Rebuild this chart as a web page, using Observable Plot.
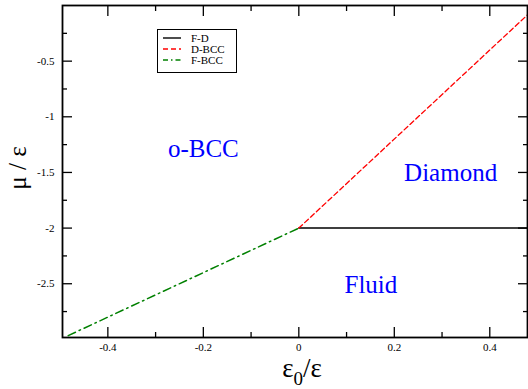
<!DOCTYPE html>
<html><head><meta charset="utf-8">
<script src="https://cdn.jsdelivr.net/npm/d3@7"></script>
<script src="https://cdn.jsdelivr.net/npm/@observablehq/plot@0.6"></script>
<style>
body{margin:0;background:#fff;}
#wrap{position:relative;width:528px;height:389px;}
#legend{position:absolute;left:157px;top:29px;}
</style></head><body><div id="wrap"></div>
<script>
// phase boundary lines
const fdX = [0, 0.48], fdY = [-2, -2];
const dbccX = [0, 0.48], dbccY = [-2, -0.08];
const fbccX = [-0.483, 0], fbccY = [-2.966, -2];
// region annotations
const regionNames = ["o-BCC", "Diamond", "Fluid"];
const regionX = [-0.2, 0.318, 0.151];
const regionY = [-1.29, -1.506, -2.512];
// ticks
const xTicks = [-0.4, -0.2, 0, 0.2, 0.4];
const xTickLabels = ["-0.4", "-0.2", "0", "0.2", "0.4"];
const xMinor = [-0.3, -0.1, 0.1, 0.3];
const yTicks = [-0.5, -1, -1.5, -2, -2.5];
const yTickLabels = ["-0.5", "-1", "-1.5", "-2", "-2.5"];
const yMinor = [-0.25, -0.75, -1.25, -1.75, -2.25, -2.75];
// legend
const legendNames = ["F-D", "D-BCC", "F-BCC"];
const legendColors = ["#000000", "#ff0000", "#008000"];
const legendDash = [null, "5,3", "8,4,1.5,4"];

const lineData = (xs, ys) => xs.map((x, i) => ({x, y: ys[i]}));
const regions = regionNames.map((n, i) => ({n, x: regionX[i], y: regionY[i]}));
const font = "Liberation Serif";

const chart = Plot.plot({
  width: 528, height: 389,
  marginLeft: 62, marginRight: 1, marginTop: 5, marginBottom: 52,
  style: "font-family: 'Liberation Serif'; background: #fff;",
  x: {domain: [-0.495, 0.479]},
  y: {domain: [-2.983, 0]},
  marks: [
    Plot.line(lineData(fdX, fdY), {x: "x", y: "y", stroke: legendColors[0], strokeWidth: 1.5, clip: true}),
    Plot.line(lineData(dbccX, dbccY), {x: "x", y: "y", stroke: legendColors[1], strokeWidth: 1.3, strokeDasharray: legendDash[1], clip: true}),
    Plot.line(lineData(fbccX, fbccY), {x: "x", y: "y", stroke: legendColors[2], strokeWidth: 1.5, strokeDasharray: legendDash[2], clip: true}),
    Plot.text(regions, {x: "x", y: "y", text: "n", fill: "#0000ff", fontSize: 25, fontFamily: font, textAnchor: "middle", lineAnchor: "middle"}),
    // tick labels
    Plot.axisX(xTicks, {anchor: "bottom", tickSize: 0, tickPadding: 6, fontSize: 11, fontFamily: font, fill: "#000", label: null, tickFormat: d => xTickLabels[xTicks.indexOf(d)]}),
    Plot.axisY(yTicks, {anchor: "left", tickSize: 0, tickPadding: 8, fontSize: 11, fontFamily: font, fill: "#000", label: null, tickFormat: d => yTickLabels[yTicks.indexOf(d)]}),
    // inward major ticks on all sides
    Plot.axisX(xTicks, {anchor: "bottom", tickSize: -10, fill: "none", label: null, strokeWidth: 1.3}),
    Plot.axisX(xTicks, {anchor: "top", tickSize: -10, fill: "none", label: null, strokeWidth: 1.3}),
    Plot.axisY(yTicks, {anchor: "left", tickSize: -10, fill: "none", label: null, strokeWidth: 1.3}),
    Plot.axisY(yTicks, {anchor: "right", tickSize: -10, fill: "none", label: null, strokeWidth: 1.3}),
    // inward minor ticks
    Plot.axisX(xMinor, {anchor: "bottom", tickSize: -5, fill: "none", label: null, strokeWidth: 1.3}),
    Plot.axisX(xMinor, {anchor: "top", tickSize: -5, fill: "none", label: null, strokeWidth: 1.3}),
    Plot.axisY(yMinor, {anchor: "left", tickSize: -5, fill: "none", label: null, strokeWidth: 1.3}),
    Plot.axisY(yMinor, {anchor: "right", tickSize: -5, fill: "none", label: null, strokeWidth: 1.3}),
    Plot.frame({stroke: "#000", strokeWidth: 1.8})
  ]
});

const wrap = document.getElementById("wrap");
wrap.appendChild(chart);
chart.setAttribute("font-family", font);

// axis titles
const svg = d3.select(chart);
const xl = svg.append("text")
  .attr("x", 302).attr("y", 377)
  .attr("text-anchor", "middle")
  .attr("font-family", font).attr("font-size", 27).attr("fill", "#000");
xl.append("tspan").text("ε");
xl.append("tspan").attr("dy", 8).attr("font-size", 19).text("0");
xl.append("tspan").attr("dy", -8).text("/ε");

svg.append("text")
  .attr("transform", "translate(26,168) rotate(-90)")
  .attr("text-anchor", "middle")
  .attr("font-family", font).attr("font-size", 25).attr("fill", "#000")
  .text("μ / ε");

// legend box
const lg = d3.select(wrap).append("svg").attr("id", "legend")
  .attr("width", 81).attr("height", 45);
lg.append("rect").attr("x", 0.5).attr("y", 0.5).attr("width", 79).attr("height", 43)
  .attr("fill", "#fff").attr("stroke", "#000").attr("stroke-width", 1);
legendNames.forEach((n, i) => {
  const cy = 9 + i * 11;
  lg.append("line").attr("x1", 6).attr("x2", 24).attr("y1", cy).attr("y2", cy)
    .attr("stroke", legendColors[i]).attr("stroke-width", 1.4)
    .attr("stroke-dasharray", legendDash[i] === null ? null : (i === 1 ? "5,3" : "5,3,1.5,3"));
  lg.append("text").attr("x", 34).attr("y", cy + 4)
    .attr("font-family", font).attr("font-size", 11).text(n);
});
</script></body></html>
